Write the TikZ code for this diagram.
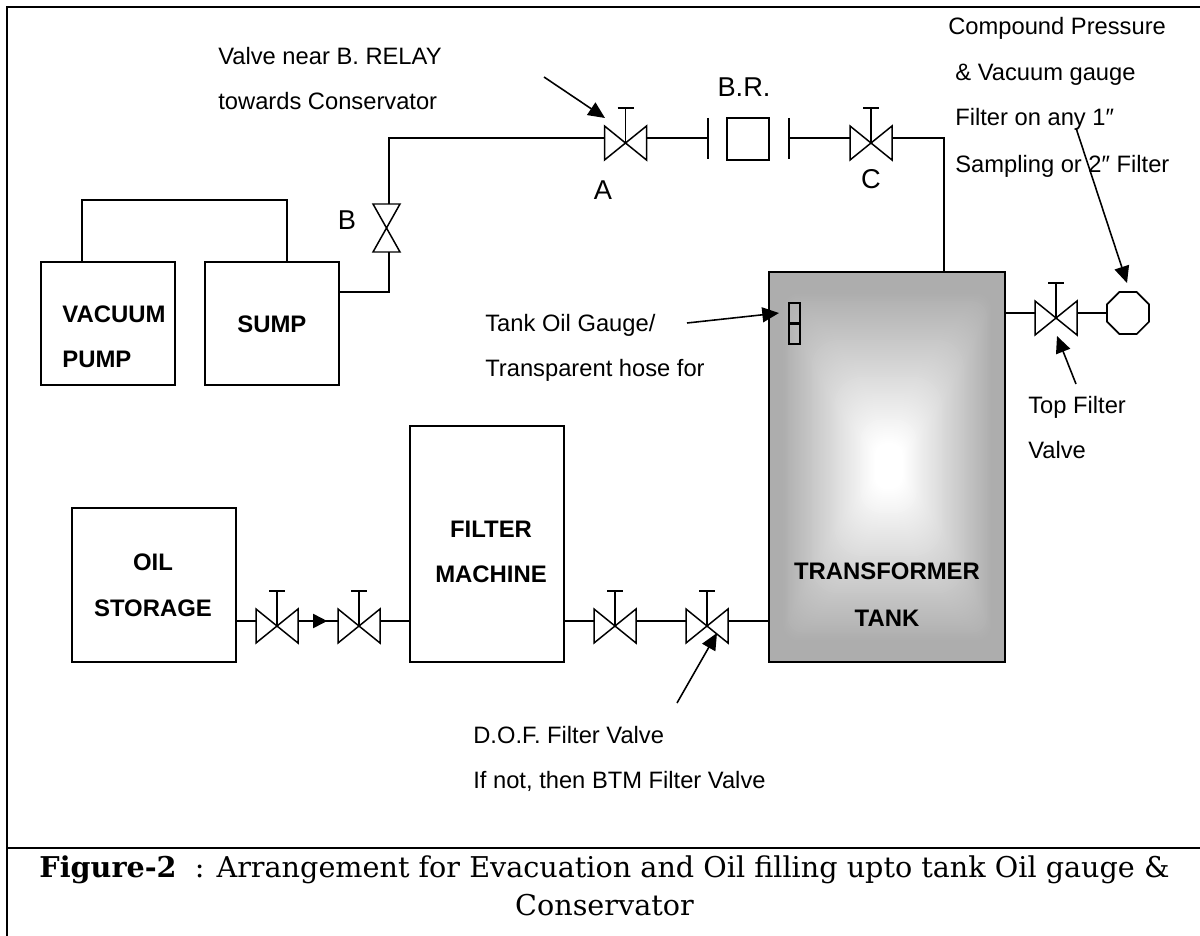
\documentclass[tikz,border=0pt]{standalone}
\usepackage{fontspec}
\setmainfont{Liberation Sans}
\newfontfamily\capfont{DejaVu Serif}
\usetikzlibrary{arrows.meta,shapes.geometric,calc}
\tikzset{
  px/.style={x=0.02cm,y=-0.02cm},
  pipe/.style={draw=black,line width=1pt},
  thin pipe/.style={draw=black,line width=0.85pt},
  frameline/.style={draw=black,line width=1.3pt},
  unitbox/.style={draw=black,line width=1.1pt,inner sep=0pt,rectangle},
  lbl/.style={anchor=base west,inner sep=0pt,font=\fontsize{13.5}{16}\selectfont},
  biglbl/.style={anchor=base,inner sep=0pt,font=\fontsize{15.5}{18}\selectfont},
  boldlbl/.style={anchor=base west,inner sep=0pt,font=\fontsize{13.6}{16}\selectfont\bfseries},
  boldmid/.style={anchor=base,inner sep=0pt,font=\fontsize{13.6}{16}\selectfont\bfseries},
  pointer/.style={draw=black,line width=0.9pt,-{Triangle[length=9.5pt,width=8.5pt]}},
  captxt/.style={anchor=base,inner sep=0pt,font=\capfont\fontsize{16.3}{19}\selectfont},
  valve/.pic={
    \draw[thin pipe,line join=miter] (-21,-12) -- (21,22) -- (21,-12) -- (-21,22) -- cycle;
    \draw[thin pipe] (0,5) -- (0,-30);
    \draw[thin pipe] (-8,-30) -- (8,-30);
    \coordinate (-l) at (-21,0);
    \coordinate (-r) at (21,0);
  }
}
\begin{document}
\begin{tikzpicture}[px]
\useasboundingbox (0,0) rectangle (1200,936);
% frame
\coordinate (fTL) at (7,7);
\coordinate (fTR) at (1200,7);
\coordinate (fBL) at (7,936);
\coordinate (dL) at (7,848);
\coordinate (dR) at (1200,848);
\draw[frameline] (fBL) -- (fTL) -- (fTR);
\draw[frameline] (dL) -- (dR);
% tank shading
\fill[black!32] (769,272) rectangle (1005,662);
\foreach \i in {1,...,100}{
  \pgfmathsetmacro{\t}{1-\i/100}
  \pgfmathsetmacro{\p}{32*min(1,max(0,(\t-0.12)/0.78))}
  \pgfmathsetmacro{\r}{66*\t*max(0.15,1-\t)}
  \fill[black!\p,rounded corners=\r pt] (889-119*\t,466-194*\t) rectangle (889+115*\t,466+196*\t);
}
% units
\node[unitbox,minimum width=76.2pt,minimum height=70pt] (pump) at (108,323.5) {};
\node[unitbox,minimum width=76.2pt,minimum height=70pt] (sump) at (272,323.5) {};
\node[unitbox,minimum width=93.3pt,minimum height=87.8pt] (oil) at (154,585) {};
\node[unitbox,minimum width=87.6pt,minimum height=134.3pt] (filter) at (487,544) {};
\node[unitbox,minimum width=134.3pt,minimum height=221.9pt] (tank) at (887,467) {};
\node[unitbox,line width=0.9pt,minimum width=23.9pt,minimum height=23.9pt] (relay) at (748,139) {};
\node[draw=black,line width=1pt,inner sep=0pt,regular polygon,regular polygon sides=8,minimum size=25.9pt] (gauge) at (1128,313) {};
\node[draw=black,line width=0.9pt,inner sep=0pt,rectangle,minimum width=6.2pt,minimum height=11.6pt] (gu) at (794.5,313) {};
\node[draw=black,line width=0.9pt,inner sep=0pt,rectangle,minimum width=6.2pt,minimum height=11.6pt] (gl) at (794.5,334) {};
% valves
\pic (vA) at (625.5,138) {valve};
\pic (vC) at (871,138) {valve};
\pic (vT) at (1056,313) {valve};
\pic (v1) at (277,621) {valve};
\pic (v2) at (359,621) {valve};
\pic (v3) at (615,621) {valve};
\pic (v4) at (707,621) {valve};
% valve B (vertical, no stem)
\coordinate (bT) at (389,204);
\coordinate (bB) at (389,252);
\draw[thin pipe,line join=miter] (373,204) -- (400,252) -- (373,252) -- (400,204) -- cycle;
% upper line
\coordinate (bend1) at (389,292);
\coordinate (bend2) at (389,138);
\coordinate (bend3) at (944,138);
\coordinate (fl1) at (708,138);
\coordinate (fl2) at (789,138);
\coordinate (tankIn) at (944,272);
\draw[pipe] (339,292) -- (bend1) -- (bB);
\draw[pipe] (bT) -- (bend2) -- (vA-l);
\draw[pipe] (vA-r) -- (fl1);
\draw[pipe] (708,118) -- (708,159);
\draw[pipe] (789,118) -- (789,159);
\draw[pipe] (fl2) -- (vC-l);
\draw[pipe] (vC-r) -- (bend3) -- (tankIn);
\draw[pipe] (82,262) -- (82,200) -- (287,200) -- (287,262);
% right of tank
\draw[pipe] (1005,313) -- (vT-l);
\draw[pipe] (vT-r) -- (gauge.west |- 0,313);
% lower line
\draw[pipe] (236,621) -- (v1-l);
\draw[pipe] (v1-r) -- (v2-l);
\draw[draw=black,line width=1pt,-{Triangle[length=8pt,width=8pt]}] (v1-r) -- ($(v1-r)!0.73!(v2-l)$);
\draw[pipe] (v2-r) -- (410,621);
\draw[pipe] (564,621) -- (v3-l);
\draw[pipe] (v3-r) -- (v4-l);
\draw[pipe] (v4-r) -- (769,621);
% pointers
\draw[pointer] (544,77) -- (605,118);
\draw[pointer] (687,323) -- (779,313);
\draw[pointer] (1076,128) -- (1127,283);
\draw[pointer] (1076,384) -- (1057,336);
\draw[pointer] (677,703) -- (717,633);
% labels
\node[lbl] (t1) at (218,65) {Valve near B. RELAY};
\node[lbl] (t2) at (218,110) {towards Conservator};
\node[biglbl] (tBR) at (744,96) {B.R.};
\node[biglbl] (tA) at (603,199) {A};
\node[biglbl] (tC) at (871,188) {C};
\node[biglbl] (tB) at (347,229) {B};
\node[lbl] (t3) at (948,35) {Compound Pressure};
\node[lbl] (t4) at (955,81) {\& Vacuum gauge};
\node[lbl] (t5) at (955,126) {Filter on any 1″};
\node[lbl] (t6) at (955,173) {Sampling or 2″ Filter};
\node[lbl] (t7) at (485,331) {Tank Oil Gauge/};
\node[lbl] (t8) at (485,376) {Transparent hose for};
\node[lbl] (t9) at (1028,413) {Top Filter};
\node[lbl] (t10) at (1028,458) {Valve};
\node[lbl] (t11) at (473,743) {D.O.F. Filter Valve};
\node[lbl] (t12) at (473,788) {If not, then BTM Filter Valve};
\node[boldlbl] (b1) at (62,322) {VACUUM};
\node[boldlbl] (b2) at (62,367) {PUMP};
\node[boldlbl] (b3) at (237,332) {SUMP};
\node[boldmid] (b4) at (153,570) {OIL};
\node[boldmid] (b5) at (153,616) {STORAGE};
\node[boldmid] (b6) at (491,537) {FILTER};
\node[boldmid] (b7) at (491,582) {MACHINE};
\node[boldmid] (b8) at (887,579) {TRANSFORMER};
\node[boldmid] (b9) at (887,626) {TANK};
% caption
\node[captxt] (c1) at (604.5,877) {\textbf{Figure-2}~ : Arrangement for Evacuation and Oil filling upto tank Oil gauge \&};
\node[captxt] (c2) at (604.5,915) {Conservator};
\end{tikzpicture}
\end{document}
